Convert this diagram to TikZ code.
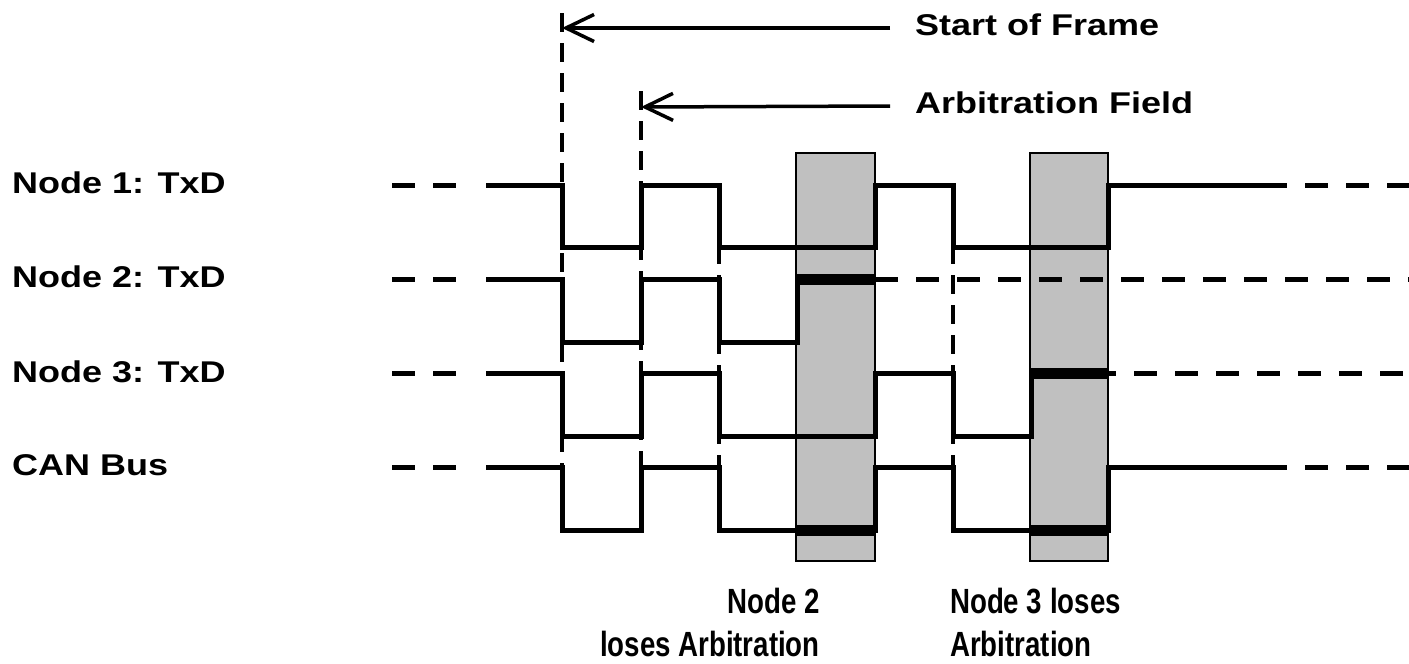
\documentclass[tikz,border=0pt]{standalone}
\usepackage{fontspec}
\setmainfont{Liberation Sans}
\newfontfamily\widefont[FakeStretch=1.2]{Liberation Sans}
\newfontfamily\narrowfont[FakeStretch=0.79]{Liberation Sans}
\usepackage{tikz}
\usetikzlibrary{arrows.meta, positioning}
\definecolor{slotgray}{HTML}{C0C0C0}
\tikzset{>={Straight Barb[length=28pt,width=27pt]}}

\begin{document}
\begin{tikzpicture}[x = 1pt, y = -1pt,
		wave/.style = {line width = 5pt},
		idle/.style = {wave, dash pattern = on 23pt off 18pt},
		guide/.style = {line width = 3.5pt, dash pattern = on 19pt off 11pt},
		win/.style = {line width = 11pt},
		slot/.style = {draw, line width = 2pt, fill = slotgray},
		sig/.style = {font = \widefont\bfseries\fontsize{30}{36}\selectfont, inner sep = 0pt},
		note/.style = {font = \narrowfont\bfseries\fontsize{35}{43}\selectfont, inner sep = 0pt}]
		\useasboundingbox (0,0) rectangle (1409,664);
		\coordinate (sof) at (562,28);
		\coordinate (arb) at (641,107);
		\draw[guide] (562,13) -- (562,467);
		\draw[guide] (641,91) -- (641,467);
		\draw[guide] (719,185) -- (719,467);
		\draw[guide] (953,185) -- (953,467);
		\draw[slot] (796,153) rectangle (875,561);
		\draw[slot] (1030,153) rectangle (1108,561);
		\draw[idle] (392,185) -- (470,185);
		\draw[wave] (486,185) -- (562,185) -- (562,247) -- (641,247) -- (641,185) -- (719,185) -- (719,247)
			-- (875,247) -- (875,185) -- (953,185) -- (953,247) -- (1108,247) -- (1108,185) -- (1287,185);
		\draw[idle] (1305,185) -- (1409,185);
		\draw[idle] (392,279) -- (470,279);
		\draw[wave] (486,279) -- (562,279) -- (562,342) -- (641,342) -- (641,279) -- (719,279) -- (719,342)
			-- (797,342) -- (797,279) -- (875,279);
		\draw[win] (797,279) -- (875,279);
		\draw[idle] (875,279) -- (1409,279);
		\draw[idle] (392,373) -- (470,373);
		\draw[wave] (486,373) -- (562,373) -- (562,436) -- (641,436) -- (641,373) -- (719,373) -- (719,436)
			-- (875,436) -- (875,373) -- (953,373) -- (953,436) -- (1031,436) -- (1031,373) -- (1108,373);
		\draw[win] (1031,373) -- (1108,373);
		\draw[idle, dash phase = 15pt] (1108,373) -- (1409,373);
		\draw[idle] (392,467) -- (470,467);
		\draw[wave] (486,467) -- (562,467) -- (562,530) -- (641,530) -- (641,467) -- (719,467) -- (719,530)
			-- (875,530) -- (875,467) -- (953,467) -- (953,530) -- (1108,530) -- (1108,467) -- (1287,467);
		\draw[win] (797,530) -- (875,530);
		\draw[win] (1031,530) -- (1108,530);
		\draw[idle] (1305,467) -- (1409,467);
		\node (tx1) [sig, anchor = base west] at (12,193) {Node 1: TxD};
		\node (tx2) [sig, anchor = base west] at (12,287) {Node 2: TxD};
		\node (tx3) [sig, anchor = base west] at (12,382) {Node 3: TxD};
		\node (bus) [sig, anchor = base west] at (12,475) {CAN Bus};
		\node (sofl) [sig, anchor = base west] at (915,35) {Start of Frame};
		\node (arbl) [sig, anchor = base west] at (915,113) {Arbitration Field};
		\draw[->, line width = 3.5pt] ([shift = {(-25pt,7pt)}]sofl.base west) -- (sof);
		\draw[->, line width = 3.5pt] ([shift = {(-25pt,7pt)}]arbl.base west) -- (arb);
		\node (lose2) [note, align = right, anchor = base east] at (820,656) {Node 2\\loses Arbitration};
		\node (lose3) [note, align = left, anchor = base west] at (950,656) {Node 3 loses\\Arbitration};
\end{tikzpicture}
\end{document}
